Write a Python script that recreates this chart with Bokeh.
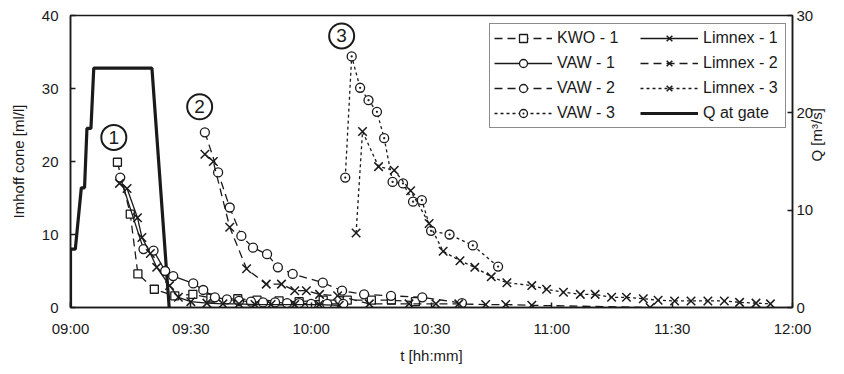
import math
from bokeh.plotting import figure
from bokeh.models import Range1d, LinearAxis, FixedTicker, Legend, LegendItem
from bokeh.embed import file_html
from bokeh.resources import INLINE
from bokeh.core.properties import value

# ---- data (time in minutes after 09:00) ----
tick_pos = [0, 30, 60, 90, 120, 150, 180]
tick_labels = ["09:00", "09:30", "10:00", "10:30", "11:00", "11:30", "12:00"]

q_t = [0, 0, 1.2, 2.7, 3.5, 4.1, 5.1, 5.8, 20.3, 24.6]
q_v = [0, 6.0, 6.0, 12.3, 12.3, 18.4, 18.4, 24.6, 24.6, 0]

kwo1_t = [11.7, 14.9, 16.8, 20.9, 26.0, 30.5, 35.0, 41.7, 46.5, 52.0, 57.0, 63.0, 69.0, 75.0, 80.0, 86.0]
kwo1_v = [19.9, 12.8, 4.6, 2.5, 1.6, 1.8, 1.3, 1.2, 1.0, 0.9, 0.8, 1.0, 1.0, 1.0, 1.0, 0.8]

vaw1_t = [12.4, 18.2, 20.7, 23.6, 25.6, 30.6, 33.1, 36.0, 39, 42, 45, 48, 51, 54, 57, 60, 64, 68]
vaw1_v = [17.8, 8.0, 7.8, 5.0, 4.3, 3.3, 2.4, 1.4, 1.1, 0.9, 0.8, 0.7, 0.7, 0.6, 0.6, 0.5, 0.5, 0.5]

vaw2_t = [33.5, 36.8, 39.7, 42.6, 45.5, 49.0, 51.7, 55.4, 62.9, 67.7, 73.2, 79.9, 87.7, 97.6]
vaw2_v = [24.0, 18.5, 13.7, 9.8, 8.2, 7.3, 5.5, 4.6, 3.4, 2.3, 1.8, 1.6, 1.4, 0.6]

vaw3_t = [68.5, 70.1, 72.2, 74.3, 76.4, 78.2, 80.3, 82.9, 85.4, 87.6, 89.9, 94.5, 100.3, 106.6]
vaw3_v = [17.8, 34.4, 30.1, 28.4, 26.8, 23.2, 17.2, 17.0, 14.5, 14.7, 10.5, 10.0, 8.5, 5.6]

limnex1_t = [12.2, 14.1, 16.7, 17.8, 19.9, 21.5, 24.7, 26.9, 30, 34, 38, 42, 46, 50, 55.9, 62, 67]
limnex1_v = [17.0, 16.3, 12.3, 9.6, 7.4, 5.5, 3.0, 1.4, 0.8, 0.6, 0.5, 0.5, 0.4, 0.4, 0.4, 0.4, 0.3]

limnex2_t = [33.5, 35.6, 39.7, 43.9, 48.8, 52.6, 55.9, 58.8, 62.1, 66.6, 74.5, 84.4, 91.1, 96.8, 103.5, 108.5, 115.0, 144.5]
limnex2_v = [21.0, 20.0, 11.0, 5.3, 3.2, 3.2, 2.3, 2.3, 1.8, 1.6, 0.5, 0.5, 0.5, 0.5, 0.4, 0.4, 0.3, 0.0]

limnex3_t = [71.2, 72.8, 76.8, 80.7, 84.8, 89.4, 92.9, 97.1, 100.8, 104.9, 108.8, 115.0, 118.7, 122.9,
             127.1, 130.8, 134.9, 138.6, 142.8, 146.5, 150.6, 154.7, 158.9, 163.0, 166.8, 170.9, 174.5]
limnex3_v = [10.2, 24.1, 19.3, 18.8, 16.0, 11.5, 7.7, 6.4, 5.5, 4.2, 3.4, 3.0, 2.5, 2.1,
             1.8, 1.8, 1.4, 1.4, 1.2, 1.0, 0.9, 0.9, 0.9, 0.9, 0.7, 0.6, 0.5]

ann_t = [10.8, 32.2, 67.6]
ann_v = [23.3, 27.5, 37.2]
ann_labels = ["1", "2", "3"]

FONT = "Liberation Sans"
INK = "#1a1a1a"

p = figure(width=836, height=366, output_backend="svg", toolbar_location=None,
           x_range=Range1d(0, 180), y_range=Range1d(0, 40),
           min_border_left=70, min_border_right=41, min_border_top=15, min_border_bottom=59)
p.extra_y_ranges = {"q": Range1d(0, 30)}
p.xgrid.visible = False
p.ygrid.visible = False
p.outline_line_color = INK
p.outline_line_width = 1.5
p.background_fill_color = "white"
p.border_fill_color = "white"

# Q at gate
rq = p.line(q_t, q_v, y_range_name="q", line_color=INK, line_width=3.2)

def series(t, v, marker, dash, size, lw=1.3):
    rl = p.line(t, v, line_color=INK, line_width=1.3, line_dash=dash)
    rs = p.scatter(t, v, marker=marker, size=size, line_color=INK, line_width=lw, fill_color="white")
    return [rl, rs]

r_kwo1 = series(kwo1_t, kwo1_v, "square", "8 5", 8)
r_vaw1 = series(vaw1_t, vaw1_v, "circle", "solid", 9)
r_vaw2 = series(vaw2_t, vaw2_v, "circle", "8 5", 9)
r_vaw3 = series(vaw3_t, vaw3_v, "circle_dot", "3 3", 9)
r_lim1 = series(limnex1_t, limnex1_v, "x", "solid", 12, 1.5)
r_lim2 = series(limnex2_t, limnex2_v, "x", "8 5", 12, 1.5)
r_lim3 = series(limnex3_t, limnex3_v, "x", "3 3", 12, 1.5)

# circled numbers
p.scatter(ann_t, ann_v, marker="circle", size=25, line_color=INK, line_width=2, fill_color="white")
p.text(ann_t, ann_v, text=ann_labels, text_align="center", text_baseline="middle",
       text_font=value(FONT), text_font_size="19px", text_color=INK)

# axes
xa = p.xaxis[0]
xa.ticker = FixedTicker(ticks=tick_pos)
xa.major_label_overrides = {tp: lb for tp, lb in zip(tick_pos, tick_labels)}
xa.axis_label = "t [hh:mm]"

ya = p.yaxis[0]
ya.ticker = FixedTicker(ticks=[0, 10, 20, 30, 40])
ya.axis_label = "Imhoff cone [ml/l]"

ra = LinearAxis(y_range_name="q", ticker=FixedTicker(ticks=[0, 10, 20, 30]), axis_label="Q [m³/s]")
p.add_layout(ra, "right")

for ax in [xa, ya, ra]:
    ax.axis_line_color = INK
    ax.axis_line_width = 1.5
    ax.major_tick_line_color = INK
    ax.major_tick_line_width = 1.5
    ax.major_tick_in = 5
    ax.major_tick_out = 0
    ax.minor_tick_line_color = None
    ax.major_label_text_font = FONT
    ax.major_label_text_font_size = "15px"
    ax.major_label_text_color = INK
    ax.major_label_standoff = 12
    ax.axis_label_text_font = FONT
    ax.axis_label_text_font_size = "15px"
    ax.axis_label_text_font_style = "normal"
    ax.axis_label_text_color = INK
    ax.axis_label_standoff = 12
xa.axis_label_standoff = 7
ra.major_label_standoff = 4
ra.axis_label_standoff = 0
if "axis_label_orientation" in ra.properties():
    ra.axis_label_orientation = math.pi / 2

legend = Legend(items=[
    LegendItem(label="KWO - 1", renderers=r_kwo1),
    LegendItem(label="VAW - 1", renderers=r_vaw1),
    LegendItem(label="VAW - 2", renderers=r_vaw2),
    LegendItem(label="VAW - 3", renderers=r_vaw3),
    LegendItem(label="Limnex - 1", renderers=r_lim1),
    LegendItem(label="Limnex - 2", renderers=r_lim2),
    LegendItem(label="Limnex - 3", renderers=r_lim3),
    LegendItem(label="Q at gate", renderers=[rq]),
], location=(419, 179), nrows=4)
legend.border_line_color = INK
legend.border_line_width = 1.5
legend.background_fill_color = "white"
legend.background_fill_alpha = 1
legend.padding = 4
legend.spacing = 5
legend.margin = 0
legend.glyph_height = 20
legend.glyph_width = 58
legend.label_height = 20
legend.label_width = 78
legend.label_standoff = 5
legend.label_text_font = FONT
legend.label_text_font_size = "16px"
legend.label_text_color = INK
p.add_layout(legend)

open("out.html", "w").write(file_html(p, INLINE))
